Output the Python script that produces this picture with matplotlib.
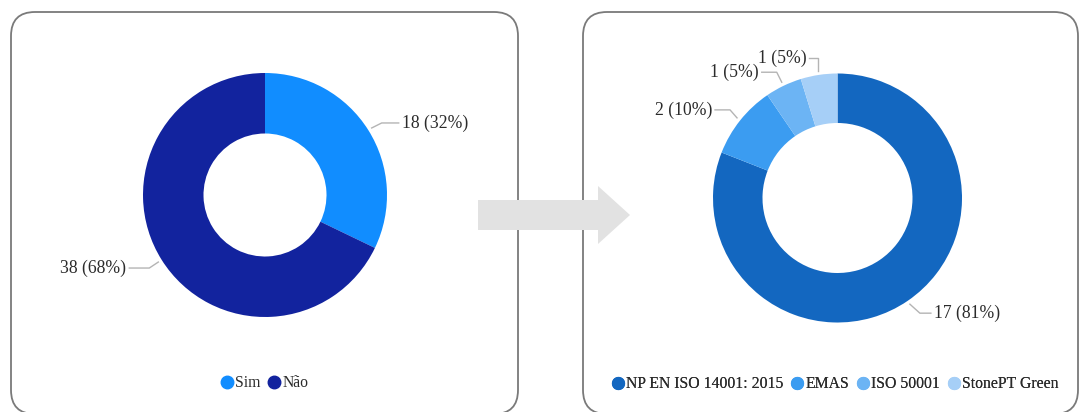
import numpy as np
import matplotlib.pyplot as plt
from matplotlib.lines import Line2D
from matplotlib.patches import FancyArrow, FancyBboxPatch

plt.rcParams["font.family"] = ["Liberation Serif", "DejaVu Serif"]

W, H = 1080, 412

ANSWERS = ["Sim", "Não"]
ANSWER_COUNTS = [18, 38]
ANSWER_COLORS = ["#118DFF", "#12239E"]

CERTS = ["NP EN ISO 14001: 2015", "EMAS", "ISO 50001", "StonePT Green"]
CERT_COUNTS = [17, 2, 1, 1]
CERT_COLORS = ["#1367C0", "#3B9CF1", "#6CB4F4", "#A6CFF7"]

TEXT = "#2b2b2b"
LEADER = "#b4b4b4"

# leader layout per wedge: elbow offset (dx, dy, pixels, y down) and horizontal run
ANSWER_LEADERS = [(10, -5, 17), (-9, 6, -20)]
CERT_LEADERS = [(10, 9, 11), (-7, -8, -15), (-5, -10, -15), (0, -13, -9)]


def donut(ax, counts, colors, center, radius, hole, leaders):
    total = sum(counts)
    cx, cy = center
    wedges, _ = ax.pie(counts, colors=colors, startangle=90, counterclock=False,
                       center=(cx, H - cy), radius=radius,
                       wedgeprops=dict(width=radius - hole, linewidth=0))
    for w, n, (dx, dy, run) in zip(wedges, counts, leaders):
        mid = np.deg2rad((w.theta1 + w.theta2) / 2)
        x0 = cx + (radius + 4) * np.cos(mid)
        y0 = cy - (radius + 4) * np.sin(mid)
        x1, y1 = x0 + dx, y0 + dy
        x2 = x1 + run
        ax.plot([x0, x1, x2], [H - y0, H - y1, H - y1], color=LEADER, lw=1,
                zorder=3)
        ax.text(x2 + np.sign(run) * 3, H - y1, f"{n} ({100 * n / total:.0f}%)",
                ha="left" if run > 0 else "right", va="center",
                fontsize=12.7, color=TEXT, zorder=4)


def legend(ax, labels, colors, center, size):
    handles = [Line2D([], [], ls="none", marker="o", ms=size, mfc=c, mec=c)
               for c in colors]
    leg = ax.legend(handles, labels, loc="center", ncol=len(labels),
                    bbox_to_anchor=(center[0] / W, 1 - center[1] / H),
                    frameon=False, fontsize=11.3, handlelength=0.7,
                    handletextpad=0.2, columnspacing=0.5, borderpad=0,
                    labelcolor=TEXT)
    ax.add_artist(leg)


fig = plt.figure(figsize=(W / 100, H / 100), dpi=100)
ax = fig.add_axes([0, 0, 1, 1])

for x0, width in [(11, 507), (583, 495)]:
    ax.add_patch(FancyBboxPatch((x0, H - 414), width, 402,
                                boxstyle="round,pad=0,rounding_size=24",
                                fc="white", ec="#7a7a7a", lw=1.3, zorder=1))

ax.add_patch(FancyArrow(478, H - 215, 152, 0, width=30, head_width=58,
                        head_length=32, length_includes_head=True,
                        color="#e2e2e2", lw=0, zorder=2))

donut(ax, ANSWER_COUNTS, ANSWER_COLORS, (265, 195), 122, 61.5, ANSWER_LEADERS)
donut(ax, CERT_COUNTS, CERT_COLORS, (837.5, 198), 124.5, 75, CERT_LEADERS)

legend(ax, ANSWERS, ANSWER_COLORS, (265, 383), 9)
legend(ax, CERTS, CERT_COLORS, (835.5, 384), 8.5)

ax.set_xlim(0, W)
ax.set_ylim(0, H)
ax.set_aspect("auto")
ax.axis("off")

fig.savefig("out.png", dpi=100)
